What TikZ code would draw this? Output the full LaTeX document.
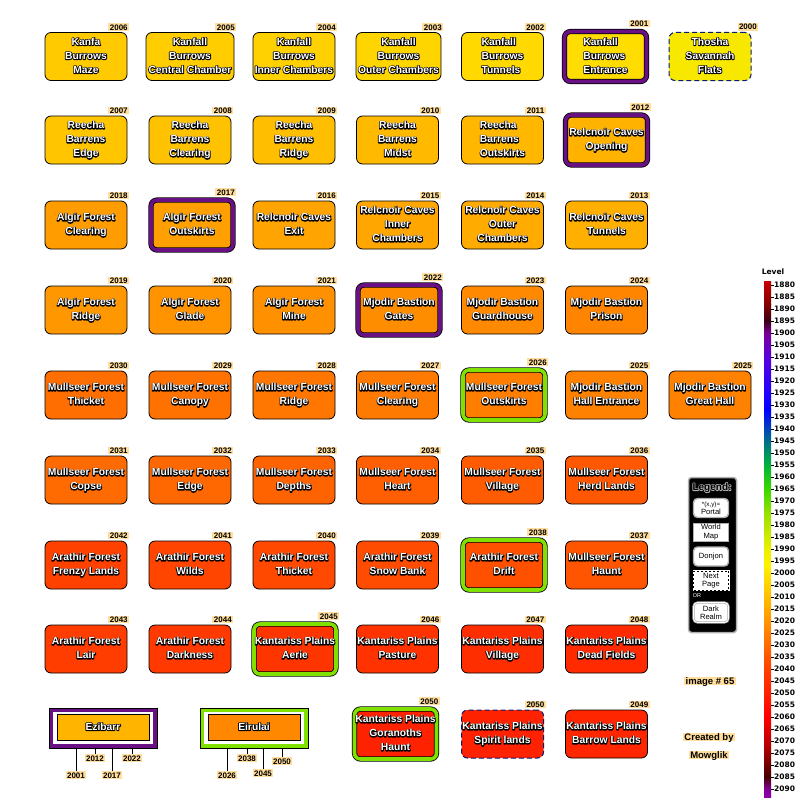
\documentclass[tikz,border=0pt]{standalone}
\usepackage{fontspec}
\setmainfont{Liberation Sans}
\newfontfamily\dvs{DejaVu Sans}
\newfontfamily\halo{Liberation Sans}[FakeBold=16]
\usetikzlibrary{backgrounds}
\definecolor{peach}{RGB}{255,222,158}
\definecolor{dkpurple}{RGB}{104,16,132}
\definecolor{lgreen}{RGB}{128,224,0}
\definecolor{navyb}{RGB}{0,30,120}
\definecolor{lgray}{RGB}{176,176,176}
\definecolor{c2000}{RGB}{248,232,0}
\definecolor{ezfill}{RGB}{255,180,0}
\definecolor{eifill}{RGB}{255,136,0}
\newsavebox\olbox
\newsavebox\olboxb
% #1 halo colour, #2 text colour, #3 column alignment, #4 text
\newcommand\olx[4]{%
 \setbox\olbox\hbox{\halo\begin{tabular}{@{}#3@{}}#4\end{tabular}}%
 \setbox\olboxb\hbox{\begin{tabular}{@{}#3@{}}#4\end{tabular}}%
 \mbox{\pgfsetroundjoin\color{#1}\rlap{\box\olbox}\color{#2}\box\olboxb}}
\newcommand\olt[2][c]{\olx{black}{white}{#1}{#2}}
\newcommand\roomfont{\fontsize{10.3}{14}\selectfont\bfseries}
\newcommand\tagfont{\fontsize{8}{9}\selectfont\bfseries}
\newcommand\legfont{\fontsize{7.6}{8.4}\selectfont}
\newcommand\barfont{\dvs\fontsize{7.5}{8}\selectfont\bfseries}
\newcommand\yt[2]{\node[tag] (t-#1) at ([xshift=2pt,yshift=1pt]#1.north east) {#2};}
\newcommand\ytd[2]{\node[tag] (t-#1) at ([xshift=3pt,yshift=3.5pt]#1.north east) {#2};}
\begin{document}
\begin{tikzpicture}[x=1pt,y=-1pt,
 room/.style={draw=black, line width=0.8pt, rounded corners=6pt, minimum width=82pt, minimum height=48pt, inner sep=0pt, font=\roomfont, text=white},
 lv/.code={\pgfmathtruncatemacro\gv{225-3.8*(#1-2000)}\definecolor{lc#1}{RGB}{255,\gv,0}\pgfkeysalso{fill=lc#1}},
 dk/.style={double=dkpurple, double distance=3.6pt, line width=0.8pt, minimum width=82pt, minimum height=50pt},
 gr/.style={double=lgreen, double distance=3.6pt, line width=0.8pt, minimum width=82pt, minimum height=50pt},
 dsh/.style={draw=navyb, dash pattern=on 5pt off 3pt, line width=1pt},
 tag/.style={anchor=south east, fill=peach, inner xsep=1.5pt, inner ysep=0.8pt, font=\tagfont, text height=6pt, text depth=0pt, text=black},
 legbox/.style={fill=white, minimum width=35pt, inner sep=0pt, align=center, font=\legfont, text=black},
 conn/.style={draw=black, line width=0.8pt}
]
\fill[white] (0,0) rectangle (800,800);
\useasboundingbox (0,0) rectangle (800,800);

% ---- row 1
\node[room,lv=2006] (r2006) at (86,56.5) {\olt{Kanfa\\Burrows\\Maze}};
\node[room,lv=2005,minimum width=88pt] (r2005) at (190,56.5) {\olt{Kanfall\\Burrows\\Central Chamber}};
\node[room,lv=2004] (r2004) at (294,56.5) {\olt{Kanfall\\Burrows\\Inner Chambers}};
\node[room,lv=2003,minimum width=85pt] (r2003) at (398.5,56.5) {\olt{Kanfall\\Burrows\\Outer Chambers}};
\node[room,lv=2002] (r2002) at (502.5,56.5) {\olt[l]{Kanfall\\Burrows\\Tunnels}};
\node[room,lv=2001,dk] (r2001) at (605.5,56.5) {\olt[l]{Kanfall\\Burrows\\Entrance}};
\node[room,dsh,fill=c2000] (r2000) at (710,56.5) {\olt{Thosha\\Savannah\\Flats}};
% ---- row 2
\node[room,lv=2007] (r2007) at (86,140) {\olt{Reecha\\Barrens\\Edge}};
\node[room,lv=2008] (r2008) at (190,140) {\olt{Reecha\\Barrens\\Clearing}};
\node[room,lv=2009] (r2009) at (294,140) {\olt{Reecha\\Barrens\\Ridge}};
\node[room,lv=2010] (r2010) at (397.5,140) {\olt{Reecha\\Barrens\\Midst}};
\node[room,lv=2011] (r2011) at (502.5,140) {\olt[l]{Reecha\\Barrens\\Outskirts}};
\node[room,lv=2012,dk] (r2012) at (606.5,140) {\olt{Relcnoir Caves\\Opening}};
% ---- row 3
\node[room,lv=2018] (r2018) at (86,225) {\olt{Algir Forest\\Clearing}};
\node[room,lv=2017,dk] (r2017) at (192,225) {\olt{Algir Forest\\Outskirts}};
\node[room,lv=2016] (r2016) at (294,225) {\olt{Relcnoir Caves\\Exit}};
\node[room,lv=2015] (r2015) at (397.5,225) {\olt{Relcnoir Caves\\Inner\\Chambers}};
\node[room,lv=2014] (r2014) at (502.5,225) {\olt{Relcnoir Caves\\Outer\\Chambers}};
\node[room,lv=2013] (r2013) at (606.5,225) {\olt{Relcnoir Caves\\Tunnels}};
% ---- row 4
\node[room,lv=2019] (r2019) at (86,310) {\olt{Algir Forest\\Ridge}};
\node[room,lv=2020] (r2020) at (190,310) {\olt{Algir Forest\\Glade}};
\node[room,lv=2021] (r2021) at (294,310) {\olt{Algir Forest\\Mine}};
\node[room,lv=2022,dk] (r2022) at (399,310) {\olt{Mjodir Bastion\\Gates}};
\node[room,lv=2023] (r2023) at (502.5,310) {\olt{Mjodir Bastion\\Guardhouse}};
\node[room,lv=2024] (r2024) at (606.5,310) {\olt{Mjodir Bastion\\Prison}};
% ---- row 5
\node[room,lv=2030] (r2030) at (86,395) {\olt{Mullseer Forest\\Thicket}};
\node[room,lv=2029] (r2029) at (190,395) {\olt{Mullseer Forest\\Canopy}};
\node[room,lv=2028] (r2028) at (294,395) {\olt{Mullseer Forest\\Ridge}};
\node[room,lv=2027] (r2027) at (397.5,395) {\olt{Mullseer Forest\\Clearing}};
\node[room,lv=2026,gr] (r2026) at (504,395) {\olt{Mullseer Forest\\Outskirts}};
\node[room,lv=2025] (r2025) at (606.5,395) {\olt{Mjodir Bastion\\Hall Entrance}};
\node[room,lv=2025] (r2025b) at (710,395) {\olt{Mjodir Bastion\\Great Hall}};
% ---- row 6
\node[room,lv=2031] (r2031) at (86,480) {\olt{Mullseer Forest\\Copse}};
\node[room,lv=2032] (r2032) at (190,480) {\olt{Mullseer Forest\\Edge}};
\node[room,lv=2033] (r2033) at (294,480) {\olt{Mullseer Forest\\Depths}};
\node[room,lv=2034] (r2034) at (397.5,480) {\olt{Mullseer Forest\\Heart}};
\node[room,lv=2035] (r2035) at (502.5,480) {\olt{Mullseer Forest\\Village}};
\node[room,lv=2036] (r2036) at (606.5,480) {\olt{Mullseer Forest\\Herd Lands}};
% ---- row 7
\node[room,lv=2042] (r2042) at (86,565) {\olt{Arathir Forest\\Frenzy Lands}};
\node[room,lv=2041] (r2041) at (190,565) {\olt{Arathir Forest\\Wilds}};
\node[room,lv=2040] (r2040) at (294,565) {\olt{Arathir Forest\\Thicket}};
\node[room,lv=2039] (r2039) at (397.5,565) {\olt{Arathir Forest\\Snow Bank}};
\node[room,lv=2038,gr] (r2038) at (504,565) {\olt{Arathir Forest\\Drift}};
\node[room,lv=2037] (r2037) at (606.5,565) {\olt{Mullseer Forest\\Haunt}};
% ---- row 8
\node[room,lv=2043] (r2043) at (86,649) {\olt{Arathir Forest\\Lair}};
\node[room,lv=2044] (r2044) at (190,649) {\olt{Arathir Forest\\Darkness}};
\node[room,lv=2045,gr] (r2045) at (295,649) {\olt{Kantariss Plains\\Aerie}};
\node[room,lv=2046] (r2046) at (397.5,649) {\olt{Kantariss Plains\\Pasture}};
\node[room,lv=2047] (r2047) at (502.5,649) {\olt{Kantariss Plains\\Village}};
\node[room,lv=2048] (r2048) at (606.5,649) {\olt{Kantariss Plains\\Dead Fields}};
% ---- row 9
\node[room,lv=2050,gr] (r2050a) at (395.5,734) {\olt{Kantariss Plains\\Goranoths\\Haunt}};
\node[room,lv=2050,dsh] (r2050b) at (502.5,734) {\olt{Kantariss Plains\\Spirit lands}};
\node[room,lv=2049] (r2049) at (606.5,734) {\olt{Kantariss Plains\\Barrow Lands}};

% ---- connectors
\begin{scope}[on background layer]
\draw[conn] (r2006) -- (r2005); \draw[conn] (r2005) -- (r2004); \draw[conn] (r2004) -- (r2003);
\draw[conn] (r2003) -- (r2002); \draw[conn] (r2002) -- (r2001); \draw[conn] (r2001) -- (r2000);
\draw[conn] (r2006) -- (r2007);
\draw[conn] (r2007) -- (r2008); \draw[conn] (r2008) -- (r2009); \draw[conn] (r2009) -- (r2010);
\draw[conn] (r2010) -- (r2011); \draw[conn] (r2011) -- (r2012);
\draw[conn] (r2012) -- (r2013);
\draw[conn] (r2018) -- (r2017); \draw[conn] (r2017) -- (r2016); \draw[conn] (r2016) -- (r2015);
\draw[conn] (r2015) -- (r2014); \draw[conn] (r2014) -- (r2013);
\draw[conn] (r2018) -- (r2019);
\draw[conn] (r2019) -- (r2020); \draw[conn] (r2020) -- (r2021); \draw[conn] (r2021) -- (r2022);
\draw[conn] (r2022) -- (r2023); \draw[conn] (r2023) -- (r2024);
\draw[conn] (r2024) -- (r2025);
\draw[conn] (r2030) -- (r2029); \draw[conn] (r2029) -- (r2028); \draw[conn] (r2028) -- (r2027);
\draw[conn] (r2027) -- (r2026); \draw[conn] (r2026) -- (r2025); \draw[conn] (r2025) -- (r2025b);
\draw[conn] (r2030) -- (r2031);
\draw[conn] (r2031) -- (r2032); \draw[conn] (r2032) -- (r2033); \draw[conn] (r2033) -- (r2034);
\draw[conn] (r2034) -- (r2035); \draw[conn] (r2035) -- (r2036);
\draw[conn] (r2036) -- (r2037);
\draw[conn] (r2042) -- (r2041); \draw[conn] (r2041) -- (r2040); \draw[conn] (r2040) -- (r2039);
\draw[conn] (r2039) -- (r2038); \draw[conn] (r2038) -- (r2037);
\draw[conn] (r2042) -- (r2043);
\draw[conn] (r2043) -- (r2044); \draw[conn] (r2044) -- (r2045); \draw[conn] (r2045) -- (r2046);
\draw[conn] (r2046) -- (r2047); \draw[conn] (r2047) -- (r2048);
\draw[conn] (r2048) -- (r2049);
\draw[conn] (r2050a) -- (r2050b); \draw[conn] (r2050b) -- (r2049);
\end{scope}

% ---- year tags
\yt{r2006}{2006}\yt{r2005}{2005}\yt{r2004}{2004}\yt{r2003}{2003}\yt{r2002}{2002}\ytd{r2001}{2001}
\node[tag] (t-r2000) at ([xshift=7pt,yshift=1pt]r2000.north east) {2000};
\yt{r2007}{2007}\yt{r2008}{2008}\yt{r2009}{2009}\yt{r2010}{2010}\yt{r2011}{2011}\ytd{r2012}{2012}
\yt{r2018}{2018}\ytd{r2017}{2017}\yt{r2016}{2016}\yt{r2015}{2015}\yt{r2014}{2014}\yt{r2013}{2013}
\yt{r2019}{2019}\yt{r2020}{2020}\yt{r2021}{2021}\ytd{r2022}{2022}\yt{r2023}{2023}\yt{r2024}{2024}
\yt{r2030}{2030}\yt{r2029}{2029}\yt{r2028}{2028}\yt{r2027}{2027}\ytd{r2026}{2026}\yt{r2025}{2025}\yt{r2025b}{2025}
\yt{r2031}{2031}\yt{r2032}{2032}\yt{r2033}{2033}\yt{r2034}{2034}\yt{r2035}{2035}\yt{r2036}{2036}
\yt{r2042}{2042}\yt{r2041}{2041}\yt{r2040}{2040}\yt{r2039}{2039}\ytd{r2038}{2038}\yt{r2037}{2037}
\yt{r2043}{2043}\yt{r2044}{2044}\ytd{r2045}{2045}\yt{r2046}{2046}\yt{r2047}{2047}\yt{r2048}{2048}
\ytd{r2050a}{2050}\yt{r2050b}{2050}\yt{r2049}{2049}

% ---- Ezibarr
\node[draw=black, line width=0.6pt, fill=dkpurple, minimum width=108pt, minimum height=40pt] (ezo) at (103,728) {};
\node[fill=white, minimum width=100pt, minimum height=32pt] (ezw) at (103,728) {};
\node[draw=black, line width=0.8pt, fill=ezfill, minimum width=92pt, minimum height=26pt, inner sep=0pt, font=\roomfont, text=white] (ezi) at (103,727.5) {\olt{Ezibarr}};
\node[tag, anchor=north] (ez2001) at (76,771) {2001};
\node[tag, anchor=north] (ez2012) at (95,754) {2012};
\node[tag, anchor=north] (ez2017) at (112,771) {2017};
\node[tag, anchor=north] (ez2022) at (132,754) {2022};
\foreach \n in {ez2001,ez2012,ez2017,ez2022}{\draw[conn] (\n.north) -- (\n.north |- ezo.south);}
% ---- Eirulai
\node[draw=black, line width=0.6pt, fill=lgreen, minimum width=108pt, minimum height=40pt] (eio) at (254,728) {};
\node[fill=white, minimum width=100pt, minimum height=32pt] (eiw) at (254,728) {};
\node[draw=black, line width=0.8pt, fill=eifill, minimum width=92pt, minimum height=26pt, inner sep=0pt, font=\roomfont, text=white] (eii) at (254,727.5) {\olt{Eirulai}};
\node[tag, anchor=north] (ei2026) at (227,771) {2026};
\node[tag, anchor=north] (ei2038) at (247,754) {2038};
\node[tag, anchor=north] (ei2045) at (263,769) {2045};
\node[tag, anchor=north] (ei2050) at (282,757) {2050};
\foreach \n in {ei2026,ei2038,ei2045,ei2050}{\draw[conn] (\n.north) -- (\n.north |- eio.south);}

% ---- legend
\node[fill=black, draw=lgray, line width=1.5pt, rounded corners=3pt, minimum width=48pt, minimum height=155pt] (leg) at (712.5,555) {};
\node[font=\fontsize{10}{11}\selectfont\bfseries, inner sep=0pt, text=black] (legt) at (712,488) {\olx{lgray}{black}{c}{Legend:}};
\node[legbox, draw=lgray, line width=1.4pt, rounded corners=4pt, minimum height=19pt] (lg1) at (711,508) {{\fontsize{6.3}{7}\selectfont*(x,y)=}\\Portal};
\node[legbox, draw=lgray, line width=1pt, minimum height=18pt] (lg2) at (711,532) {World\\Map};
\node[legbox, draw=lgray, line width=1.4pt, rounded corners=4pt, minimum height=19pt] (lg3) at (711,556.5) {Donjon};
\node[legbox, draw=white, line width=2pt, minimum height=19pt, postaction={draw=black, line width=1pt, dash pattern=on 2pt off 2pt}] (lg4) at (711,580.5) {Next\\Page};
\node[text=white, font=\fontsize{5.5}{6}\selectfont, inner sep=0pt] (lgor) at (697,596) {OR};
\node[legbox, draw=lgray, line width=0.7pt, double=white, double distance=0.8pt, rounded corners=4pt, minimum height=20pt] (lg5) at (711,612.5) {Dark\\Realm};

% ---- info texts
\node[tag, anchor=center, font=\fontsize{9.5}{10}\selectfont\bfseries] (img) at (710,681) {image \# 65};
\node[tag, anchor=center, font=\fontsize{9.5}{10}\selectfont\bfseries] (cr1) at (709,737) {Created by};
\node[tag, anchor=center, font=\fontsize{9.5}{10}\selectfont\bfseries] (cr2) at (709,755) {Mowglik};

% ---- colour bar
\definecolor{b01}{RGB}{200,0,0}
\definecolor{b02}{RGB}{130,0,0}
\definecolor{b03}{RGB}{60,0,20}
\definecolor{b04}{RGB}{120,0,150}
\definecolor{b05}{RGB}{90,0,220}
\definecolor{b06}{RGB}{30,0,255}
\definecolor{b07}{RGB}{0,0,255}
\definecolor{b08}{RGB}{0,110,140}
\definecolor{b09}{RGB}{0,180,60}
\definecolor{b10}{RGB}{60,215,0}
\definecolor{b11}{RGB}{150,225,0}
\definecolor{b12}{RGB}{235,240,0}
\definecolor{b13}{RGB}{255,240,0}
\definecolor{b14}{RGB}{255,190,0}
\definecolor{b15}{RGB}{255,128,0}
\definecolor{b16}{RGB}{255,64,0}
\definecolor{b17}{RGB}{255,0,0}
\definecolor{b18}{RGB}{180,0,0}
\definecolor{b19}{RGB}{70,0,0}
\definecolor{b20}{RGB}{130,0,150}
\definecolor{b21}{RGB}{140,0,170}
\foreach \ya/\ca/\yb/\cb in {281/b01/304.2/b02, 304.2/b02/321/b03, 321/b03/333/b04, 333/b04/357/b05, 357/b05/393/b06, 393/b06/409.8/b07, 409.8/b07/441/b08, 441/b08/465/b09, 465/b09/489/b10, 489/b10/513/b11, 513/b11/549/b12, 549/b12/565.8/b13, 565.8/b13/597/b14, 597/b14/633/b15, 633/b15/669/b16, 669/b16/717/b17, 717/b17/745.8/b18, 745.8/b18/777/b19, 777/b19/789/b20, 789/b20/797/b21}
 {\shade[top color=\ca, bottom color=\cb] (764,\ya) rectangle (771,\yb);}
\node[font=\barfont, inner sep=0pt] (lvl) at (773,272) {Level};
\foreach \L in {1880,1885,...,2090}{
 \pgfmathsetmacro\yy{285+2.4*(\L-1880)}
 \node[anchor=west, inner sep=0pt, font=\barfont] (lb\L) at (774,\yy) {\L};
 \draw[line width=0.8pt] (lb\L.west) -- ++(-3,0);
}
\end{tikzpicture}
\end{document}
